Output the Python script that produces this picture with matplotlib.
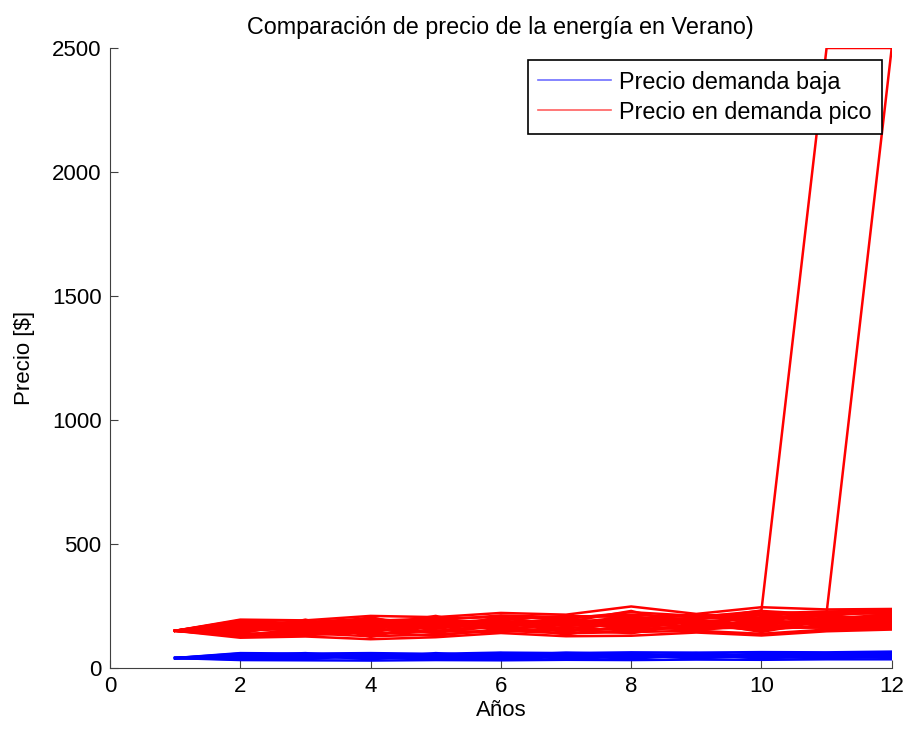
import matplotlib.pyplot as plt
from matplotlib.lines import Line2D

plt.rcParams['font.family'] = ['Liberation Sans', 'DejaVu Sans']

# years of the simulation
anios = [1, 2, 3, 4, 5, 6, 7, 8, 9, 10, 11, 12]

# peak-demand price runs
pico = [
    [150, 195, 192, 210, 205, 222, 215, 248, 218, 245, 236, 238],
    [150, 122, 127, 116, 124, 141, 128, 130, 143, 131, 148, 155],
    [150, 185, 178, 190, 200, 205, 198, 225, 210, 220, 228, 232],
    [150, 130, 140, 128, 135, 150, 140, 145, 150, 138, 155, 160],
    [150, 175, 188, 182, 192, 212, 205, 215, 205, 230, 215, 225],
    [150, 140, 132, 145, 130, 158, 150, 160, 158, 165, 162, 165],
    [150, 168, 170, 195, 178, 195, 210, 205, 198, 212, 222, 218],
    [150, 150, 160, 138, 150, 145, 165, 150, 170, 155, 170, 172],
    [150, 190, 165, 175, 185, 180, 185, 198, 215, 200, 210, 230],
    [150, 135, 150, 160, 142, 170, 135, 175, 150, 180, 180, 170],
    [150, 160, 182, 170, 165, 200, 175, 190, 180, 205, 195, 210],
    [150, 178, 145, 150, 172, 165, 195, 170, 190, 170, 205, 185],
    [150, 145, 175, 185, 158, 185, 160, 180, 165, 195, 175, 200],
    [150, 172, 155, 165, 195, 175, 180, 208, 175, 185, 190, 178],
    [150, 155, 185, 200, 175, 160, 200, 165, 200, 215, 185, 195],
    [150, 182, 168, 142, 188, 190, 170, 185, 185, 175, 200, 215],
    [150, 128, 138, 155, 205, 150, 190, 155, 195, 160, 165, 190],
    [150, 165, 150, 175, 140, 210, 145, 195, 160, 190, 215, 180],
    [150, 138, 195, 132, 168, 182, 155, 140, 178, 150, 198, 205],
    [150, 188, 142, 198, 150, 168, 185, 230, 168, 228, 158, 162],
    [150, 148, 168, 190, 160, 205, 168, 200, 172, 168, 182, 222],
    [150, 180, 135, 158, 198, 155, 178, 162, 208, 188, 170, 168],
    [150, 162, 190, 125, 182, 195, 142, 212, 155, 202, 208, 188],
    [150, 132, 158, 205, 148, 176, 202, 168, 188, 145, 192, 200],
    [150, 192, 178, 168, 210, 148, 192, 182, 162, 218, 178, 175],
    [150, 170, 162, 180, 182, 188, 182, 192, 195, 232, 2500, 2500],
    [150, 158, 172, 168, 178, 172, 188, 178, 188, 200, 222, 2500],
]

# low-demand price runs
baja = [
    [40, 60, 58, 60, 57, 62, 60, 63, 62, 64, 63, 66],
    [40, 32, 31, 30, 32, 31, 33, 32, 34, 33, 35, 35],
    [40, 52, 45, 55, 50, 48, 55, 50, 58, 52, 55, 60],
    [40, 38, 48, 40, 45, 52, 42, 55, 45, 57, 48, 50],
    [40, 45, 52, 35, 55, 40, 50, 45, 50, 42, 60, 45],
    [40, 55, 38, 48, 40, 58, 38, 60, 40, 48, 42, 55],
    [40, 35, 55, 45, 38, 45, 58, 40, 55, 38, 52, 40],
    [40, 48, 42, 52, 47, 35, 45, 52, 38, 60, 45, 58],
    [40, 42, 35, 58, 42, 55, 48, 38, 52, 45, 40, 52],
    [40, 58, 50, 38, 60, 45, 52, 58, 47, 55, 58, 42],
    [40, 50, 60, 42, 52, 60, 35, 48, 60, 40, 50, 62],
    [40, 40, 40, 50, 35, 50, 62, 55, 42, 50, 38, 48],
]

fig = plt.figure(figsize=(9.09, 7.33), dpi=100)
ax = fig.add_axes([0.121, 0.0887, 0.86, 0.8458])

for serie in baja:
    ax.plot(anios, serie, color='#0000ff', linewidth=1.8)
for serie in pico:
    ax.plot(anios, serie, color='#ff0000', linewidth=1.8)

ax.set_xlim(0, 12)
ax.set_ylim(0, 2500)
ax.set_xticks([0, 2, 4, 6, 8, 10, 12])
ax.set_yticks([0, 500, 1000, 1500, 2000, 2500])
ax.tick_params(direction='in', length=6, labelsize=16, colors='#404040',
               labelcolor='black', pad=6)
for lado in ['top', 'right']:
    ax.spines[lado].set_visible(False)
for lado in ['left', 'bottom']:
    ax.spines[lado].set_color('#404040')

ax.set_title('Comparación de precio de la energía en Verano)', fontsize=16.8, pad=10)
ax.set_xlabel('Años', fontsize=16, labelpad=2)
ax.set_ylabel('Precio [$]', fontsize=16, labelpad=12)

handles = [Line2D([], [], color='#7070ff', linewidth=1.2),
           Line2D([], [], color='#ff6060', linewidth=1.2)]
leg = ax.legend(handles, ['Precio demanda baja', 'Precio en demanda pico'],
                loc='upper right', bbox_to_anchor=(0.970, 0.918),
                bbox_transform=fig.transFigure, fontsize=16.8, fancybox=False,
                framealpha=1, edgecolor='black', handlelength=3.1,
                handletextpad=0.35, borderpad=0.45,
                borderaxespad=0, labelspacing=0.3)
leg.get_frame().set_linewidth(1.2)

fig.savefig('out.png', dpi=100)
